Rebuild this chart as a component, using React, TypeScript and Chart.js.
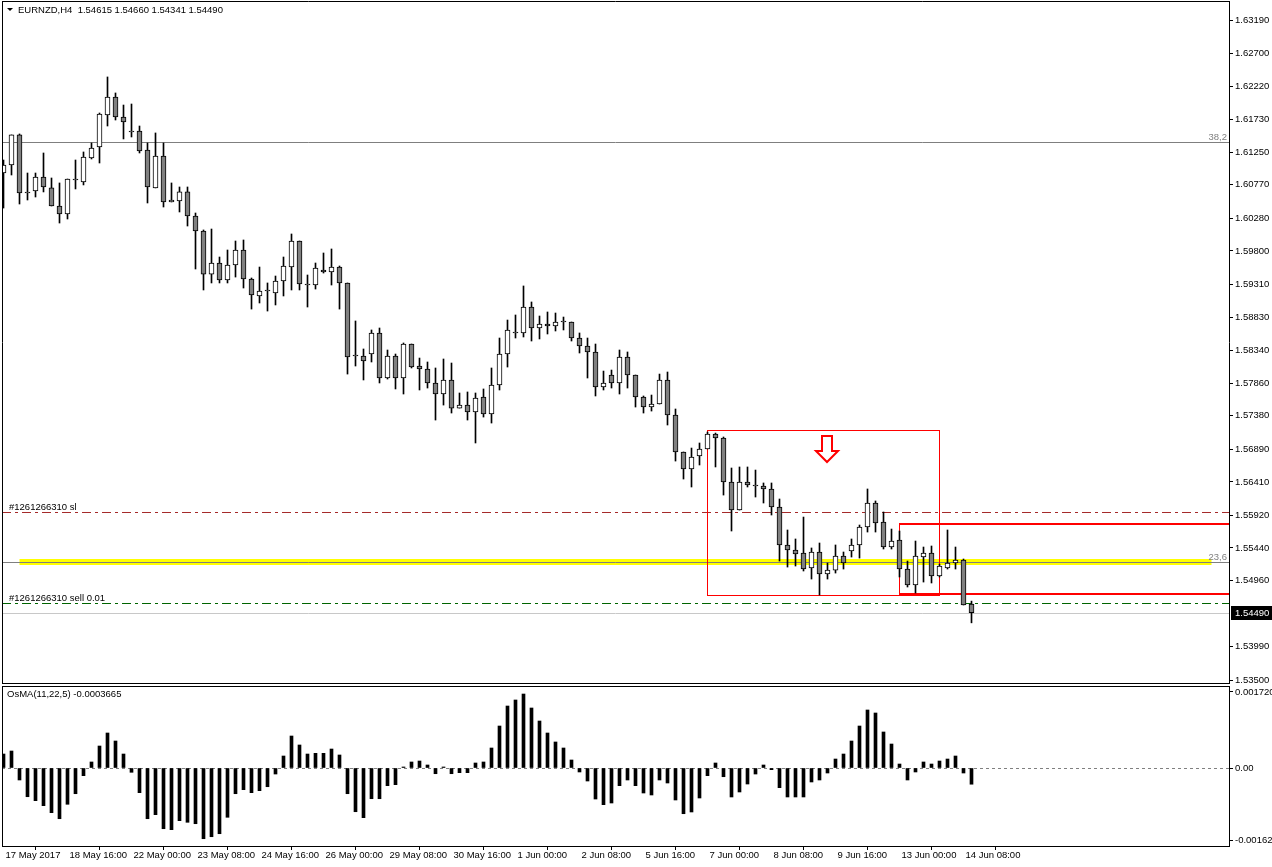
import React, { useEffect, useRef } from "react";
import { Chart, registerables } from "chart.js";

Chart.register(...registerables);

const FONT = '"Liberation Sans", Arial, sans-serif';
const FS = 9.5;
const FONT_STR = `${FS}px ${FONT}`;

const chartTitle = "EURNZD,H4  1.54615 1.54660 1.54341 1.54490";
const oscTitle = "OsMA(11,22,5) -0.0003665";

const opens = [
  1.60944, 1.61062, 1.61503, 1.60651, 1.6068, 1.60885, 1.60725, 1.6046, 1.60342, 1.60842,
  1.60813, 1.61164, 1.61326, 1.61796, 1.6206, 1.61766, 1.61546, 1.61561, 1.61282, 1.60725,
  1.61194, 1.60519, 1.60533, 1.60666, 1.60313, 1.60093, 1.59461, 1.59623, 1.59374, 1.59594,
  1.59814, 1.59388, 1.59139, 1.59212, 1.59183, 1.59359, 1.59564, 1.59946, 1.593, 1.593,
  1.5952, 1.59491, 1.59564, 1.5933, 1.58258, 1.58258, 1.58287, 1.58596, 1.57935, 1.58258,
  1.57935, 1.58434, 1.58111, 1.58067, 1.57862, 1.577, 1.57906, 1.57494, 1.57538, 1.57436,
  1.57656, 1.57406, 1.57832, 1.58287, 1.58596, 1.58596, 1.58977, 1.58669, 1.58728, 1.58698,
  1.58757, 1.58757, 1.58522, 1.58405, 1.58317, 1.57803, 1.57979, 1.57862, 1.58243, 1.57979,
  1.57656, 1.57509, 1.57553, 1.57906, 1.57392, 1.56849, 1.56599, 1.5679, 1.56893, 1.57113,
  1.57054, 1.56408, 1.55997, 1.56408, 1.5635, 1.5635, 1.56306, 1.56041, 1.55484, 1.5541,
  1.55366, 1.55146, 1.55381, 1.55058, 1.55116, 1.55322, 1.55395, 1.55484, 1.55748, 1.561,
  1.55821, 1.55454, 1.55557, 1.55131, 1.54896, 1.55307, 1.55366, 1.55028, 1.55146, 1.55219,
  1.55263, 1.54615,
];

const highs = [
  1.61135, 1.61503, 1.61517, 1.60944, 1.60944, 1.61238, 1.60871, 1.60798, 1.60856, 1.61135,
  1.61253, 1.61385, 1.61825, 1.62354, 1.62119, 1.61942, 1.61957, 1.61634, 1.61385, 1.61532,
  1.61385, 1.60798, 1.60739, 1.60739, 1.60357, 1.60108, 1.60122, 1.59711, 1.59814, 1.59946,
  1.59961, 1.59403, 1.59564, 1.5933, 1.59432, 1.59711, 1.60049, 1.59946, 1.59447, 1.59623,
  1.5977, 1.59829, 1.59579, 1.5933, 1.58772, 1.58361, 1.5864, 1.58669, 1.58346, 1.58287,
  1.58449, 1.58434, 1.58228, 1.5817, 1.58082, 1.58214, 1.58155, 1.57715, 1.5773, 1.57715,
  1.57774, 1.58082, 1.58522, 1.58786, 1.5886, 1.59286, 1.59051, 1.58845, 1.58904, 1.58889,
  1.5883, 1.58757, 1.58596, 1.58522, 1.58434, 1.58037, 1.58052, 1.58346, 1.58317, 1.57979,
  1.57671, 1.57685, 1.57993, 1.58023, 1.5748, 1.56849, 1.56907, 1.56981, 1.57142, 1.57127,
  1.57069, 1.56614, 1.56629, 1.56629, 1.56584, 1.56394, 1.56394, 1.56159, 1.55704, 1.55572,
  1.55894, 1.5544, 1.55513, 1.55219, 1.55484, 1.55381, 1.55572, 1.55777, 1.56306, 1.5613,
  1.55968, 1.55718, 1.55689, 1.55248, 1.55542, 1.55454, 1.55469, 1.55204, 1.55704, 1.55454,
  1.55278, 1.5466,
];

const lows = [
  1.6043, 1.60915, 1.60489, 1.60548, 1.60592, 1.60666, 1.6046, 1.6021, 1.60269, 1.6071,
  1.60769, 1.6115, 1.61091, 1.61634, 1.61722, 1.61444, 1.61473, 1.61238, 1.60504, 1.60725,
  1.60445, 1.60519, 1.60372, 1.60166, 1.59535, 1.59227, 1.5933, 1.5933, 1.5933, 1.59417,
  1.59256, 1.58947, 1.59036, 1.58918, 1.59007, 1.59139, 1.59227, 1.59227, 1.58977, 1.59241,
  1.59476, 1.593, 1.58947, 1.57993, 1.58111, 1.57906, 1.5817, 1.57862, 1.5792, 1.57774,
  1.577, 1.58082, 1.57759, 1.57788, 1.57318, 1.57538, 1.57421, 1.57494, 1.57318, 1.56981,
  1.57362, 1.57274, 1.57759, 1.58096, 1.58522, 1.58537, 1.58478, 1.58508, 1.58581, 1.58625,
  1.5864, 1.58478, 1.58302, 1.57935, 1.57671, 1.57759, 1.57788, 1.577, 1.57788, 1.57509,
  1.57421, 1.5745, 1.57553, 1.57245, 1.56716, 1.56452, 1.56335, 1.56658, 1.56893, 1.56629,
  1.56217, 1.55689, 1.55997, 1.56335, 1.56188, 1.561, 1.55924, 1.55248, 1.5516, 1.55175,
  1.55102, 1.54984, 1.5475, 1.54984, 1.55072, 1.55131, 1.55307, 1.55292, 1.55674, 1.55674,
  1.55425, 1.55425, 1.55014, 1.54867, 1.54779, 1.5494, 1.54926, 1.55014, 1.55131, 1.55131,
  1.54603, 1.54341,
];

const closes = [
  1.61062, 1.61503, 1.60651, 1.60651, 1.60885, 1.60739, 1.6046, 1.60342, 1.60856, 1.60842,
  1.61179, 1.61311, 1.6181, 1.6206, 1.61766, 1.61693, 1.61546, 1.61267, 1.60739, 1.61194,
  1.60519, 1.60548, 1.60666, 1.60313, 1.60093, 1.59461, 1.59623, 1.59374, 1.59594, 1.59814,
  1.59388, 1.59154, 1.59212, 1.59212, 1.59359, 1.59579, 1.59946, 1.59315, 1.593, 1.5955,
  1.59491, 1.59564, 1.5933, 1.58243, 1.58258, 1.58184, 1.58596, 1.57935, 1.58258, 1.57935,
  1.58434, 1.58096, 1.58067, 1.57862, 1.577, 1.57906, 1.57494, 1.57538, 1.57436, 1.57641,
  1.57406, 1.57832, 1.58287, 1.5864, 1.58596, 1.58977, 1.58669, 1.58728, 1.58698, 1.58757,
  1.58757, 1.58522, 1.58405, 1.58317, 1.57803, 1.57862, 1.57862, 1.58243, 1.57979, 1.57656,
  1.57509, 1.57553, 1.57906, 1.57392, 1.56849, 1.56599, 1.56775, 1.56893, 1.57113, 1.57054,
  1.56408, 1.55997, 1.56408, 1.56364, 1.5635, 1.56306, 1.56041, 1.55484, 1.5541, 1.55351,
  1.55131, 1.55381, 1.55058, 1.55116, 1.55322, 1.55219, 1.55484, 1.55748, 1.561, 1.55806,
  1.55454, 1.55542, 1.55131, 1.54896, 1.55322, 1.55366, 1.55028, 1.55175, 1.55219, 1.55263,
  1.54603, 1.5449,
];

const osma = [
  0.000316, 0.000384, -0.000271, -0.000649, -0.000739, -0.000852, -0.00101, -0.001146, -0.00082, -0.000581,
  -0.000174, 0.000136, 0.000497, 0.000791, 0.00061, 0.000316, -0.000097, -0.000558, -0.001146, -0.001055,
  -0.001372, -0.001394, -0.001191, -0.001227, -0.001259, -0.001598, -0.001553, -0.001485, -0.001114, -0.000581,
  -0.00049, -0.000558, -0.000513, -0.000423, -0.000136, 0.000271, 0.000723, 0.00052, 0.000316, 0.000332,
  0.000332, 0.000429, 0.000294, -0.000581, -0.000988, -0.001123, -0.000694, -0.000694, -0.0004, -0.000377,
  0.000023, 0.000136, 0.000158, 0.000068, -0.000129, 0.000023, -0.000129, -0.000106, -0.000106, 0.000113,
  0.000136, 0.000452, 0.000949, 0.001401, 0.001537, 0.001672, 0.001356, 0.001062, 0.000791, 0.000588,
  0.000452, 0.000181, -0.00009, -0.000294, -0.000701, -0.000829, -0.000791, -0.0004, -0.000271, -0.0004,
  -0.000565, -0.00061, -0.000271, -0.000339, -0.000723, -0.001033, -0.000994, -0.000678, -0.000174, 0.000113,
  -0.000197, -0.000655, -0.000542, -0.000362, -0.000136, 0.000068, -0.000038, -0.000445, -0.000655, -0.000655,
  -0.000655, -0.000316, -0.000271, -0.000113, 0.000203, 0.000316, 0.00061, 0.000949, 0.001311, 0.001243,
  0.000814, 0.000542, 0.00009, -0.000271, -0.00009, 0.000136, 0.00009, 0.000158, 0.000203, 0.000271,
  -0.000113, -0.0003665,
];

const priceTicks = [
  1.6319, 1.627, 1.6222, 1.6173, 1.6125, 1.6077, 1.6028, 1.598, 1.5931, 1.5883,
  1.5834, 1.5786, 1.5738, 1.5689, 1.5641, 1.5592, 1.5544, 1.5496, 1.5399, 1.535,
];
const bidPrice = 1.5449;
const bidLabel = "1.54490";

const osmaTicks = [0.00172, 0, -0.001628];
const osmaTickLabels = ["0.001720", "0.00", "-0.001628"];

const timeLabels = [
  "17 May 2017", "18 May 16:00", "22 May 00:00", "23 May 08:00", "24 May 16:00", "26 May 00:00",
  "29 May 08:00", "30 May 16:00", "1 Jun 00:00", "2 Jun 08:00", "5 Jun 16:00", "7 Jun 00:00",
  "8 Jun 08:00", "9 Jun 16:00", "13 Jun 00:00", "14 Jun 08:00",
];
const timeLabelStep = 8;

const fibLevels = [
  { label: "38,2", price: 1.614 },
  { label: "23,6", price: 1.55234 },
];
const fibBandPrice = 1.55234;
const fibBandBars = [2, 151];

const orderLines = [
  { label: "#1261266310 sl", price: 1.55968, color: "#a52a2a" },
  { label: "#1261266310 sell 0.01", price: 1.54632, color: "#006400" },
];

const boxBars = [88, 117];
const boxPrices = [1.57172, 1.5475];
const zoneBar = 112;
const zonePrices = [1.55791, 1.54764];
const arrowBar = 103;
const arrowPrices = [1.57084, 1.56702];

// scale ranges (view window)
const X_MIN = -0.1875;
const X_MAX = 153.1875;
const PRICE_MAX = 1.63469;
const PRICE_MIN = 1.53458;
const OSC_MAX = 0.0018532;
const OSC_MIN = -0.0017628;

const crisp = (v: number) => Math.round(v) + 0.5;

const mainDecor = {
  id: "mainDecor",
  beforeDatasetsDraw(chart: any) {
    const { ctx, chartArea: a, scales } = chart;
    const xs = scales.x;
    const ys = scales.y;
    ctx.save();
    ctx.beginPath();
    ctx.rect(a.left, a.top, a.right - a.left, a.bottom - a.top);
    ctx.clip();

    const hLine = (price: number, color: string, width: number, dash: number[], x0 = a.left, x1 = a.right) => {
      const y = ys.getPixelForValue(price);
      const yy = width % 2 === 1 ? crisp(y) : Math.round(y);
      ctx.beginPath();
      ctx.setLineDash(dash);
      ctx.strokeStyle = color;
      ctx.lineWidth = width;
      ctx.moveTo(x0, yy);
      ctx.lineTo(x1, yy);
      ctx.stroke();
    };

    // yellow fibo band
    hLine(fibBandPrice, "#ffff00", 6, [], xs.getPixelForValue(fibBandBars[0]), xs.getPixelForValue(fibBandBars[1]));
    fibLevels.forEach((f) => hLine(f.price, "#7f7f7f", 1, []));
    orderLines.forEach((o) => hLine(o.price, o.color, 1, [9, 4, 3, 4]));
    hLine(bidPrice, "#c8c8c8", 1, []);

    // red rectangle
    ctx.setLineDash([]);
    ctx.strokeStyle = "#ff0000";
    ctx.lineWidth = 1;
    const bx0 = crisp(xs.getPixelForValue(boxBars[0]) - 0.5);
    const bx1 = crisp(xs.getPixelForValue(boxBars[1]) - 0.5);
    const by0 = crisp(ys.getPixelForValue(boxPrices[0]));
    const by1 = crisp(ys.getPixelForValue(boxPrices[1]));
    ctx.strokeRect(bx0, by0, bx1 - bx0, by1 - by0);

    // red zone (thick top/bottom)
    const zx = crisp(xs.getPixelForValue(zoneBar) - 0.5);
    const zy0 = Math.round(ys.getPixelForValue(zonePrices[0]));
    const zy1 = Math.round(ys.getPixelForValue(zonePrices[1]));
    ctx.beginPath();
    ctx.moveTo(zx, zy0);
    ctx.lineTo(zx, zy1);
    ctx.stroke();
    ctx.lineWidth = 2;
    ctx.beginPath();
    ctx.moveTo(zx - 0.5, zy0);
    ctx.lineTo(a.right, zy0);
    ctx.moveTo(zx - 0.5, zy1);
    ctx.lineTo(a.right, zy1);
    ctx.stroke();

    // down arrow
    const cx = xs.getPixelForValue(arrowBar) - 0.5;
    const ay0 = ys.getPixelForValue(arrowPrices[0]);
    const ay1 = ys.getPixelForValue(arrowPrices[1]);
    const hy = ay0 + (ay1 - ay0) * 0.58;
    ctx.beginPath();
    ctx.moveTo(cx - 5, ay0);
    ctx.lineTo(cx + 5, ay0);
    ctx.lineTo(cx + 5, hy);
    ctx.lineTo(cx + 11, hy);
    ctx.lineTo(cx, ay1);
    ctx.lineTo(cx - 11, hy);
    ctx.lineTo(cx - 5, hy);
    ctx.closePath();
    ctx.fillStyle = "#ffffff";
    ctx.fill();
    ctx.strokeStyle = "#ff0000";
    ctx.lineWidth = 2;
    ctx.stroke();

    ctx.restore();
  },
  afterDraw(chart: any) {
    const { ctx, chartArea: a, scales } = chart;
    const ys = scales.y;
    ctx.save();
    // frame
    ctx.strokeStyle = "#000";
    ctx.lineWidth = 1;
    ctx.beginPath();
    ctx.moveTo(a.left + 0.5, a.top);
    ctx.lineTo(a.left + 0.5, a.bottom + 1);
    ctx.moveTo(a.left, a.top + 0.5);
    ctx.lineTo(a.right, a.top + 0.5);
    ctx.moveTo(a.left, a.bottom + 0.5);
    ctx.lineTo(a.right + 1, a.bottom + 0.5);
    ctx.stroke();

    // title
    ctx.fillStyle = "#000";
    ctx.beginPath();
    ctx.moveTo(7, 8);
    ctx.lineTo(13, 8);
    ctx.lineTo(10, 11);
    ctx.closePath();
    ctx.fill();
    ctx.font = FONT_STR;
    ctx.textBaseline = "middle";
    ctx.textAlign = "left";
    ctx.fillText(chartTitle, 18, 10.5);

    // order labels
    ctx.textBaseline = "alphabetic";
    orderLines.forEach((o) => {
      const y = ys.getPixelForValue(o.price);
      ctx.fillStyle = "#000";
      ctx.fillText(o.label, 9, Math.round(y) - 2);
    });

    // fibo labels
    ctx.textAlign = "right";
    ctx.fillStyle = "#7f7f7f";
    fibLevels.forEach((f) => {
      const y = ys.getPixelForValue(f.price);
      ctx.fillText(f.label, a.right - 2, Math.round(y) - 2);
    });

    // bid label
    const by = ys.getPixelForValue(bidPrice);
    ctx.fillStyle = "#000";
    ctx.fillRect(a.right + 2, Math.round(by) - 7, 50, 14);
    ctx.fillStyle = "#fff";
    ctx.textAlign = "left";
    ctx.textBaseline = "middle";
    ctx.fillText(bidLabel, a.right + 6, Math.round(by) + 0.5);
    ctx.restore();
  },
};

const oscDecor = {
  id: "oscDecor",
  beforeDatasetsDraw(chart: any) {
    const { ctx, chartArea: a, scales } = chart;
    const y0 = crisp(scales.y.getPixelForValue(0));
    ctx.save();
    ctx.strokeStyle = "#808080";
    ctx.lineWidth = 1;
    ctx.setLineDash([3, 3]);
    ctx.beginPath();
    ctx.moveTo(a.left, y0);
    ctx.lineTo(a.right, y0);
    ctx.stroke();
    ctx.restore();
  },
  afterDraw(chart: any) {
    const { ctx, chartArea: a } = chart;
    ctx.save();
    ctx.strokeStyle = "#000";
    ctx.lineWidth = 1;
    ctx.beginPath();
    ctx.moveTo(a.left + 0.5, a.top);
    ctx.lineTo(a.left + 0.5, a.bottom + 1);
    ctx.moveTo(a.left, a.top + 0.5);
    ctx.lineTo(a.right + 1, a.top + 0.5);
    ctx.stroke();
    ctx.fillStyle = "#000";
    ctx.font = FONT_STR;
    ctx.textBaseline = "middle";
    ctx.textAlign = "left";
    ctx.fillText(oscTitle, 7, a.top + 8.5);
    ctx.restore();
  },
};

export default function App() {
  const mainRef = useRef<HTMLCanvasElement>(null);
  const oscRef = useRef<HTMLCanvasElement>(null);

  useEffect(() => {
    const font = { family: FONT, size: FS };
    const main = new Chart(mainRef.current as HTMLCanvasElement, {
      type: "bar",
      data: {
        datasets: [
          {
            label: "wick",
            data: opens.map((_, i) => ({ x: i, y: [lows[i], highs[i]] })) as any,
            backgroundColor: "#000",
            barThickness: 1,
            grouped: false,
            order: 2,
          } as any,
          {
            label: "body",
            data: opens.map((o, i) => ({ x: i, y: [o, closes[i]] })) as any,
            backgroundColor: opens.map((o, i) => (closes[i] > o ? "#ffffff" : "#808080")),
            borderColor: "#000",
            borderWidth: 1,
            borderSkipped: false,
            barThickness: 5,
            minBarLength: 1,
            grouped: false,
            order: 1,
          } as any,
        ],
      },
      options: {
        responsive: false,
        animation: false,
        events: [],
        layout: { padding: { left: 2, top: 1, right: 0, bottom: 3 } },
        plugins: { legend: { display: false }, tooltip: { enabled: false } },
        scales: {
          x: { type: "linear", display: false, min: X_MIN, max: X_MAX, offset: false, bounds: "data" },
          y: {
            type: "linear",
            position: "right",
            min: PRICE_MIN,
            max: PRICE_MAX,
            bounds: "data",
            afterBuildTicks: (s: any) => {
              s.ticks = priceTicks.map((v) => ({ value: v }));
            },
            afterFit: (s: any) => {
              s.width = 43;
              s.paddingTop = 0;
              s.paddingBottom = 0;
            },
            ticks: {
              autoSkip: false,
              padding: 2,
              color: "#000",
              font,
              callback: (v: any) => Number(v).toFixed(5),
            },
            grid: { drawOnChartArea: false, drawTicks: true, tickLength: 4, color: "#000" },
            border: { display: true, color: "#000" },
          },
        },
      } as any,
      plugins: [mainDecor],
    });

    const osc = new Chart(oscRef.current as HTMLCanvasElement, {
      type: "bar",
      data: {
        datasets: [
          {
            label: "OsMA",
            data: osma.map((v, i) => ({ x: i, y: v })) as any,
            backgroundColor: "#000",
            borderWidth: 0,
            barThickness: 3,
          } as any,
        ],
      },
      options: {
        responsive: false,
        animation: false,
        events: [],
        layout: { padding: { left: 2, top: 2, right: 0, bottom: 0 } },
        plugins: { legend: { display: false }, tooltip: { enabled: false } },
        scales: {
          x: {
            type: "linear",
            min: X_MIN,
            max: X_MAX,
            offset: false,
            bounds: "data",
            afterBuildTicks: (s: any) => {
              s.ticks = timeLabels.map((_, k) => ({ value: k * timeLabelStep }));
            },
            afterFit: (s: any) => {
              s.height = 21;
              s.paddingLeft = 0;
              s.paddingRight = 0;
            },
            ticks: {
              autoSkip: false,
              maxRotation: 0,
              minRotation: 0,
              align: "start",
              labelOffset: 2,
              padding: 0,
              color: "#000",
              font,
              callback: (_v: any, i: number) => timeLabels[i],
            },
            grid: { drawOnChartArea: false, drawTicks: true, tickLength: 4, color: "#000" },
            border: { display: true, color: "#000" },
          },
          y: {
            type: "linear",
            position: "right",
            min: OSC_MIN,
            max: OSC_MAX,
            bounds: "data",
            afterBuildTicks: (s: any) => {
              s.ticks = osmaTicks.map((v) => ({ value: v }));
            },
            afterFit: (s: any) => {
              s.width = 43;
              s.paddingTop = 0;
              s.paddingBottom = 0;
            },
            ticks: {
              autoSkip: false,
              padding: 2,
              color: "#000",
              font,
              callback: (_v: any, i: number) => osmaTickLabels[i],
            },
            grid: { drawOnChartArea: false, drawTicks: true, tickLength: 4, color: "#000" },
            border: { display: true, color: "#000" },
          },
        },
      } as any,
      plugins: [oscDecor],
    });

    return () => {
      main.destroy();
      osc.destroy();
    };
  }, []);

  return (
    <div
      style={{
        position: "fixed",
        left: 0,
        top: 0,
        width: 1272,
        height: 867,
        background: "#ffffff",
        overflow: "hidden",
      }}
    >
      <canvas ref={mainRef} width={1272} height={686} style={{ position: "absolute", left: 0, top: 0 }} />
      <canvas ref={oscRef} width={1272} height={183} style={{ position: "absolute", left: 0, top: 684 }} />
    </div>
  );
}
